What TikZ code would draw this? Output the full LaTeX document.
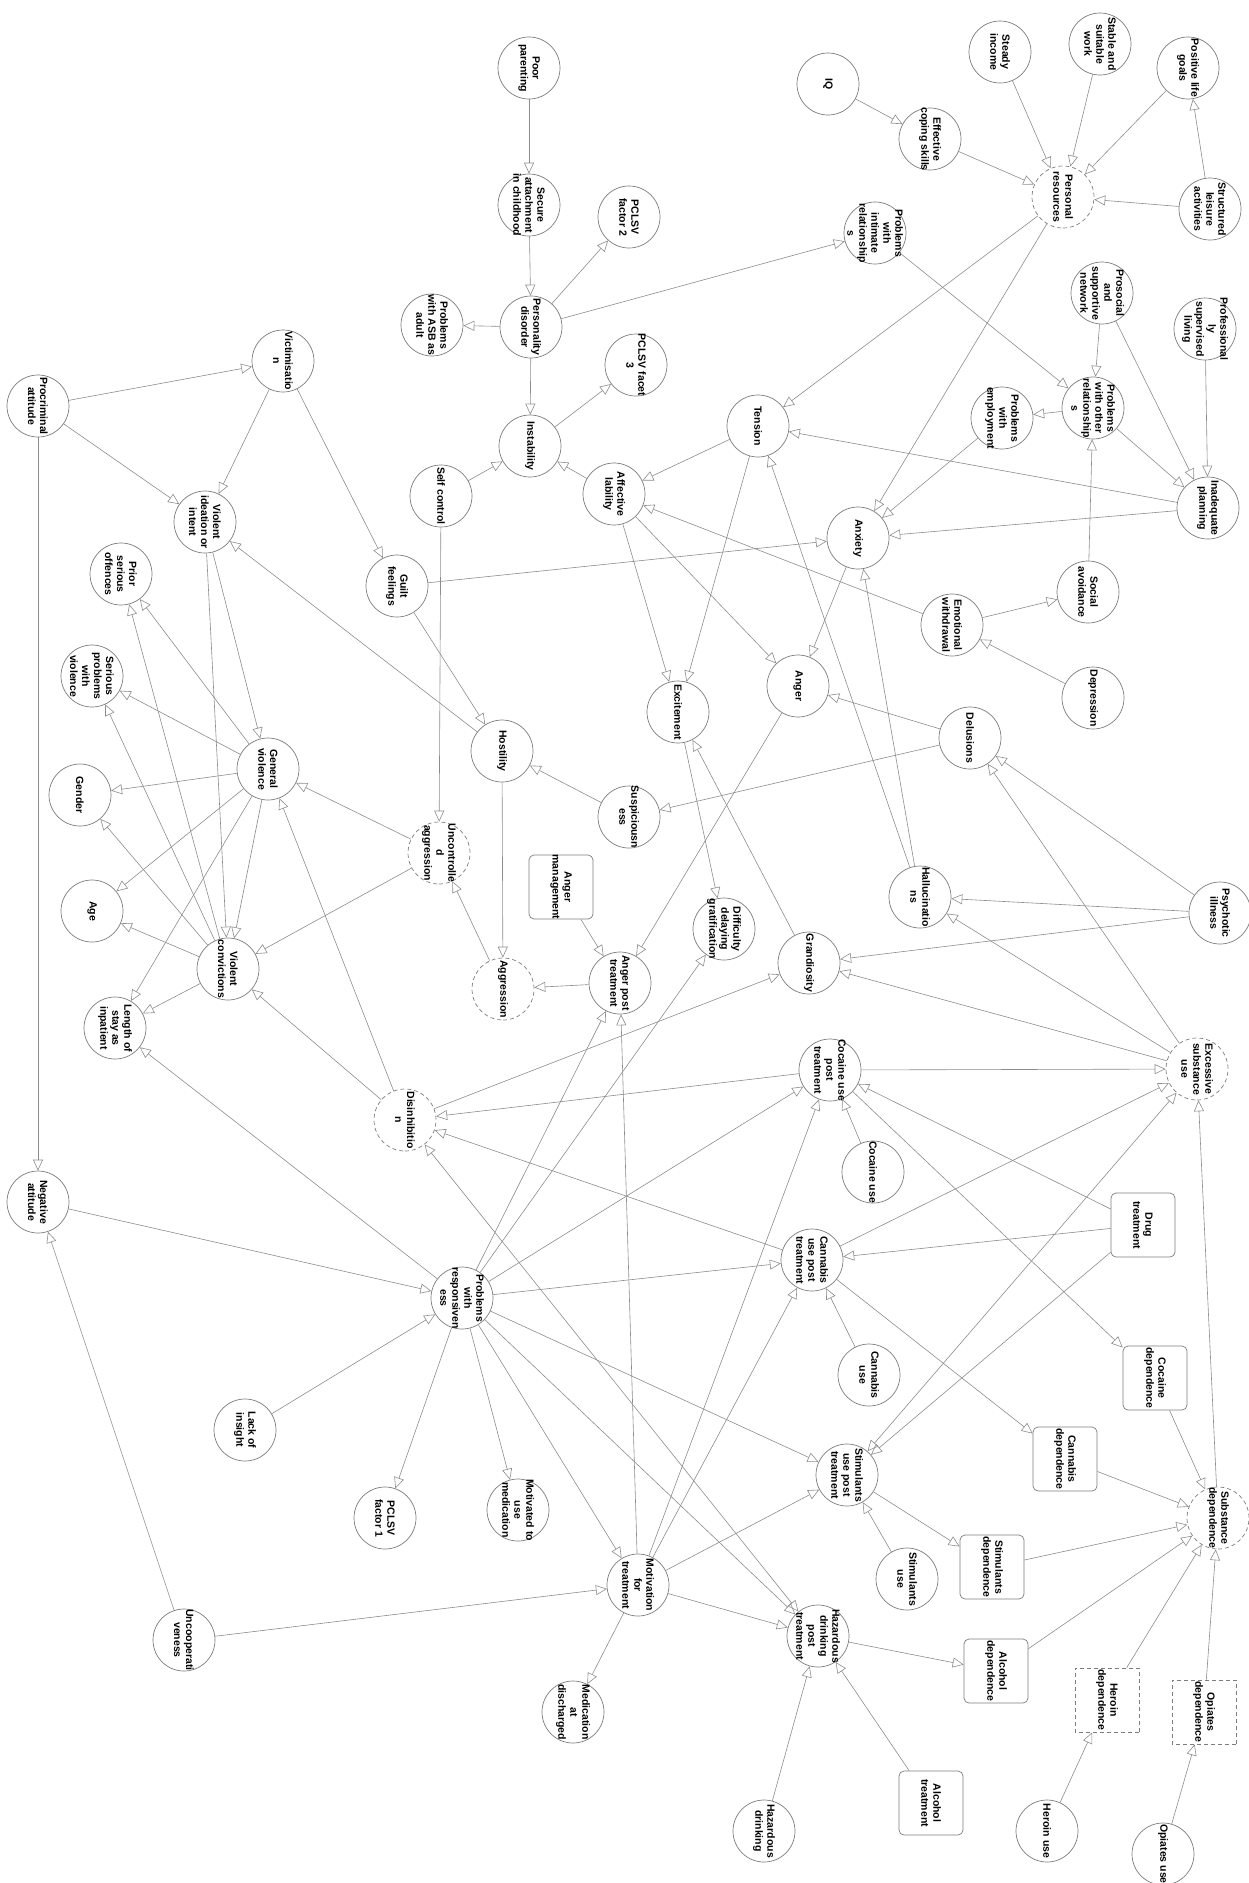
\documentclass[tikz,border=0pt]{standalone}
\usepackage{fontspec}
\setmainfont{Liberation Sans}
\usetikzlibrary{arrows.meta}
\definecolor{rimgray}{RGB}{125,125,125}
\definecolor{edgegray}{RGB}{140,140,140}

\begin{document}
\begin{tikzpicture}[
    x=1pt, y=-1pt,
    >={Triangle[open, length=11pt, width=10pt]},
    var/.style={circle, draw=rimgray, fill=white, line width=0.7pt, minimum size=62pt, inner sep=-25pt, align=center, rotate=-90, font=\bfseries\fontsize{10.5}{12}\selectfont},
    latent/.style={var, dash pattern=on 4pt off 3pt},
    act/.style={var, rectangle, rounded corners=5pt, minimum size=64pt},
    latentact/.style={act, dash pattern=on 4pt off 3pt, rounded corners=0pt},
    link/.style={draw=edgegray, line width=0.6pt, ->},
    twolink/.style={draw=edgegray, line width=0.6pt, <->}
]
\useasboundingbox (0,0) rectangle (1249,1883);

% personality and childhood
\node[var] (poorpar) at (529,68) {Poor\\parenting};
\node[var] (secure) at (529,205) {Secure\\attachment\\in childhood};
\node[var] (pclf2) at (629,217) {PCLSV\\factor 2};
\node[var] (persdis) at (531,327) {Personality\\disorder};
\node[var] (asb) at (432,325) {Problems\\with ASB as\\adult};
\node[var] (pclf3) at (636,365) {PCLSV facet\\3};
\node[var] (instab) at (530,446) {Instability};
\node[var] (selfctl) at (441,496) {Self control};
\node[var] (afflab) at (614,494) {Affective\\lability};
\node[var] (tension) at (758,426) {Tension};

% resources
\node[var] (iq) at (828,84) {IQ};
\node[var] (coping) at (930,139) {Effective\\coping skills};
\node[var] (income) at (1000,52) {Steady\\income};
\node[var] (work) at (1100,44) {Stable and\\suitable\\work};
\node[var] (goals) at (1188,68) {Positive life\\goals};
\node[latent] (persres) at (1063,197) {Personal\\resources};
\node[var] (leisure) at (1210,209) {Structured\\leisure\\activities};
\node[var] (intimate) at (875,233) {Problems\\with\\intimate\\relationship\\s};
\node[var] (prosocial) at (1102,293) {Prosocial\\and\\supportive\\network};
\node[var] (supervised) at (1205,329) {Professional\\ly\\supervised\\living};
\node[var] (otherrel) at (1093,408) {Problems\\with other\\relationship\\s};
\node[var] (employ) at (1002,418) {Problems\\with\\employment};
\node[var] (planning) at (1208,508) {Inadequate\\planning};
\node[var] (anxiety) at (858,538) {Anxiety};
\node[var] (socavoid) at (1088,592) {Social\\avoidance};
\node[var] (withdraw) at (952,625) {Emotional\\withdrawal};
\node[var] (depress) at (1093,698) {Depression};

% symptoms
\node[var] (delusions) at (970,738) {Delusions};
\node[var] (anger) at (798,686) {Anger};
\node[var] (excite) at (678,712) {Excitement};
\node[var] (hostility) at (502,751) {Hostility};
\node[var] (suspic) at (629,817) {Suspiciousn\\ess};
\node[latent] (uncagg) at (439,853) {Uncontrolle\\d\\aggression};
\node[act] (angmgmt) at (561,887) {Anger\\management};
\node[var] (difficulty) at (724,929) {Difficulty\\delaying\\gratification};
\node[var] (grandios) at (809,963) {Grandiosity};
\node[var] (angpost) at (620,983) {Anger post\\treatment};
\node[latent] (aggress) at (503,989) {Aggression};
\node[var] (halluc) at (920,897) {Hallucinatio\\ns};
\node[var] (psychotic) at (1220,913) {Psychotic\\illness};
\node[latent] (excess) at (1197,1069) {Excessive\\substance\\use};

% violence
\node[var] (victim) at (283,361) {Victimisatio\\n};
\node[var] (procrim) at (38,406) {Procriminal\\attitude};
\node[var] (ideation) at (205,522) {Violent\\ideation or\\intent};
\node[var] (prior) at (121,574) {Prior\\serious\\offences};
\node[var] (guilt) at (397,586) {Guilt\\feelings};
\node[var] (serious) at (92,676) {Serious\\problems\\with\\violence};
\node[var] (genviol) at (268,769) {General\\violence};
\node[var] (gender) at (80,795) {Gender};
\node[var] (age) at (92,911) {Age};
\node[var] (violconv) at (228,969) {Violent\\convictions};
\node[var] (lengthstay) at (115,1028) {Length of\\stay as\\inpatient};
\node[latent] (disinhib) at (405,1120) {Disinhibitio\\n};
\node[var] (negatt) at (38,1202) {Negative\\attitude};

% treatment
\node[var] (insight) at (245,1430) {Lack of\\insight};
\node[var] (pclf1) at (385,1518) {PCLSV\\factor 1};
\node[var] (uncoop) at (184,1640) {Uncooperati\\veness};
\node[var] (respons) at (462,1298) {Problems\\with\\responsiven\\ess};
\node[var] (motmed) at (518,1510) {Motivated to\\use\\medication};
\node[var] (motivation) at (638,1585) {Motivation\\for\\treatment};
\node[var] (meddisch) at (573,1712) {Medication\\at\\discharged};

% substances
\node[var] (cocpost) at (830,1070) {Cocaine use\\post\\treatment};
\node[var] (cocuse) at (873,1172) {Cocaine use};
\node[act] (drugtreat) at (1143,1225) {Drug\\treatment};
\node[var] (canpost) at (812,1260) {Cannabis\\use post\\treatment};
\node[var] (canuse) at (869,1375) {Cannabis\\use};
\node[var] (stimpost) at (847,1475) {Stimulants\\use post\\treatment};
\node[var] (stimuse) at (907,1579) {Stimulants\\use};
\node[var] (hazpost) at (818,1636) {Hazardous\\drinking\\post\\treatment};
\node[var] (hazdrink) at (764,1831) {Hazardous\\drinking};
\node[act] (cocdep) at (1155,1378) {Cocaine\\dependence};
\node[act] (candep) at (1065,1459) {Cannabis\\dependence};
\node[act] (stimdep) at (992,1567) {Stimulants\\dependence};
\node[act] (alcdep) at (996,1671) {Alcohol\\dependence};
\node[latentact] (herdep) at (1107,1700) {Heroin\\dependence};
\node[latentact] (opidep) at (1204,1712) {Opiates\\dependence};
\node[latent] (subdep) at (1218,1518) {Substance\\dependence};
\node[act] (alctreat) at (931,1803) {Alcohol\\treatment};
\node[var] (heruse) at (1047,1831) {Heroin use};
\node[var] (opiuse) at (1163,1854) {Opiates use};

% personality links
\draw[link] (poorpar) -- (secure);
\draw[link] (secure) -- (persdis);
\draw[link] (persdis) -- (pclf2);
\draw[link] (persdis) -- (asb);
\draw[link] (persdis) -- (instab);
\draw[link] (persdis) -- (intimate);
\draw[link] (instab) -- (pclf3);
\draw[link] (selfctl) -- (instab);
\draw[link] (afflab) -- (instab);
\draw[link] (tension) -- (afflab);
\draw[link] (afflab) -- (excite);
\draw[link] (tension) -- (excite);
\draw[link] (afflab) -- (anger);
\draw[link] (withdraw) -- (afflab);

% resources links
\draw[link] (iq) -- (coping);
\draw[link] (coping) -- (persres);
\draw[link] (income) -- (persres);
\draw[link] (work) -- (persres);
\draw[link] (goals) -- (persres);
\draw[link] (leisure) -- (persres);
\draw[link] (leisure) -- (goals);
\draw[link] (persres) -- (tension);
\draw[link] (persres) -- (anxiety);
\draw[link] (intimate) -- (otherrel);
\draw[link] (prosocial) -- (otherrel);
\draw[link] (prosocial) -- (planning);
\draw[link] (supervised) -- (planning);
\draw[link] (otherrel) -- (planning);
\draw[link] (otherrel) -- (employ);
\draw[link] (socavoid) -- (otherrel);
\draw[link] (employ) -- (anxiety);
\draw[link] (planning) -- (anxiety);
\draw[link] (planning) -- (tension);
\draw[link] (withdraw) -- (socavoid);
\draw[link] (depress) -- (withdraw);
\draw[link] (anxiety) -- (anger);
\draw[link] (guilt) -- (anxiety);

% symptom links
\draw[link] (halluc) -- (tension);
\draw[link] (halluc) -- (anxiety);
\draw[link] (delusions) -- (anger);
\draw[link] (delusions) -- (suspic);
\draw[link] (suspic) -- (hostility);
\draw[link] (grandios) -- (excite);
\draw[link] (excite) -- (difficulty);
\draw[link] (anger) -- (angpost);
\draw[link] (angmgmt) -- (angpost);
\draw[link] (angpost) -- (aggress);
\draw[link] (hostility) -- (aggress);
\draw[link] (aggress) -- (uncagg);
\draw[link] (selfctl) -- (uncagg);
\draw[link] (psychotic) -- (delusions);
\draw[link] (psychotic) -- (halluc);
\draw[link] (psychotic) -- (grandios);
\draw[link] (excess) -- (delusions);
\draw[link] (excess) -- (halluc);
\draw[link] (excess) -- (grandios);

% violence links
\draw[link] (procrim) -- (victim);
\draw[link] (procrim) -- (ideation);
\draw[link] (procrim) -- (negatt);
\draw[link] (victim) -- (ideation);
\draw[link] (victim) -- (guilt);
\draw[link] (guilt) -- (hostility);
\draw[link] (hostility) -- (ideation);
\draw[link] (ideation) -- (genviol);
\draw[link] (ideation) -- (violconv);
\draw[link] (uncagg) -- (genviol);
\draw[link] (uncagg) -- (violconv);
\draw[link] (disinhib) -- (genviol);
\draw[link] (disinhib) -- (violconv);
\draw[link] (disinhib) -- (grandios);
\draw[link] (genviol) -- (prior);
\draw[link] (genviol) -- (serious);
\draw[link] (genviol) -- (gender);
\draw[link] (genviol) -- (age);
\draw[link] (genviol) -- (violconv);
\draw[link] (genviol) -- (lengthstay);
\draw[link] (violconv) -- (prior);
\draw[link] (violconv) -- (serious);
\draw[link] (violconv) -- (gender);
\draw[link] (violconv) -- (age);
\draw[link] (violconv) -- (lengthstay);

% treatment links
\draw[link] (uncoop) -- (negatt);
\draw[link] (uncoop) -- (motivation);
\draw[link] (negatt) -- (respons);
\draw[link] (insight) -- (respons);
\draw[link] (respons) -- (lengthstay);
\draw[link] (respons) -- (pclf1);
\draw[link] (respons) -- (motmed);
\draw[link] (respons) -- (motivation);
\draw[link] (respons) -- (angpost);
\draw[link] (respons) -- (difficulty);
\draw[link] (respons) -- (cocpost);
\draw[link] (respons) -- (canpost);
\draw[link] (respons) -- (stimpost);
\draw[link] (respons) -- (hazpost);
\draw[link] (motivation) -- (meddisch);
\draw[link] (motivation) -- (angpost);
\draw[link] (motivation) -- (cocpost);
\draw[link] (motivation) -- (canpost);
\draw[link] (motivation) -- (stimpost);
\draw[link] (motivation) -- (hazpost);

% substance links
\draw[link] (cocpost) -- (disinhib);
\draw[link] (canpost) -- (disinhib);
\draw[twolink] (hazpost) -- (disinhib);
\draw[link] (cocpost) -- (excess);
\draw[link] (canpost) -- (excess);
\draw[twolink] (stimpost) -- (excess);
\draw[link] (subdep) -- (excess);
\draw[link] (drugtreat) -- (cocpost);
\draw[link] (drugtreat) -- (canpost);
\draw[link] (drugtreat) -- (stimpost);
\draw[link] (cocuse) -- (cocpost);
\draw[link] (canuse) -- (canpost);
\draw[link] (stimuse) -- (stimpost);
\draw[link] (cocpost) -- (cocdep);
\draw[link] (canpost) -- (candep);
\draw[link] (stimpost) -- (stimdep);
\draw[link] (hazpost) -- (alcdep);
\draw[link] (alctreat) -- (hazpost);
\draw[link] (hazdrink) -- (hazpost);
\draw[link] (cocdep) -- (subdep);
\draw[link] (candep) -- (subdep);
\draw[link] (stimdep) -- (subdep);
\draw[link] (alcdep) -- (subdep);
\draw[link] (herdep) -- (subdep);
\draw[link] (opidep) -- (subdep);
\draw[link] (heruse) -- (herdep);
\draw[link] (opiuse) -- (opidep);
\end{tikzpicture}
\end{document}
